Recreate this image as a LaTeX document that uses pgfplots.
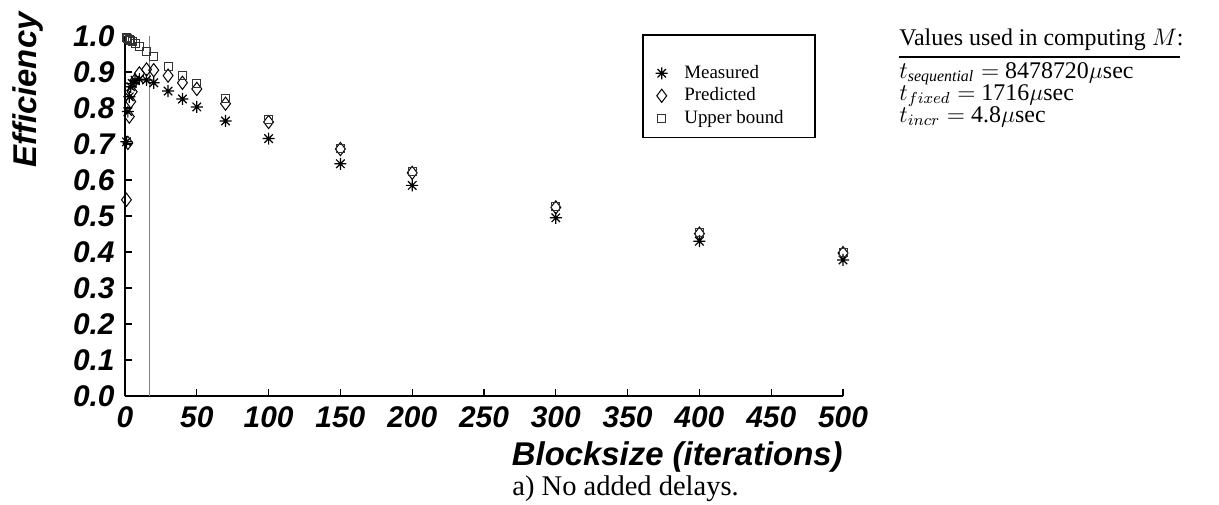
\documentclass[border=0pt]{standalone}
\usepackage{amsmath}
\usepackage{fontspec}
\setmainfont{Liberation Serif}
\setsansfont{Liberation Sans}
\usepackage{pgfplots}
\pgfplotsset{compat=1.18}

% eight-spoke asterisk for the measured points
\pgfdeclareplotmark{star8}{%
  \pgfpathmoveto{\pgfqpoint{0pt}{\pgfplotmarksize}}%
  \pgfpathlineto{\pgfqpoint{0pt}{-\pgfplotmarksize}}%
  \pgfpathmoveto{\pgfqpoint{\pgfplotmarksize}{0pt}}%
  \pgfpathlineto{\pgfqpoint{-\pgfplotmarksize}{0pt}}%
  \pgfpathmoveto{\pgfqpoint{.707\pgfplotmarksize}{.707\pgfplotmarksize}}%
  \pgfpathlineto{\pgfqpoint{-.707\pgfplotmarksize}{-.707\pgfplotmarksize}}%
  \pgfpathmoveto{\pgfqpoint{-.707\pgfplotmarksize}{.707\pgfplotmarksize}}%
  \pgfpathlineto{\pgfqpoint{.707\pgfplotmarksize}{-.707\pgfplotmarksize}}%
  \pgfusepathqstroke}

\pgfplotstableread{
b    meas   pred   upper
1    0.706  0.545  0.997
2    0.790  0.703  0.994
3    0.831  0.776  0.991
4    0.859  0.818  0.988
5    0.868  0.845  0.985
7    0.877  0.877  0.979
10   0.880  0.896  0.971
15   0.878  0.907  0.957
20   0.870  0.905  0.943
30   0.847  0.890  0.915
40   0.825  0.870  0.891
50   0.803  0.853  0.869
70   0.764  0.812  0.826
100  0.715  0.761  0.767
150  0.645  0.686  0.688
200  0.585  0.620  0.623
300  0.495  0.524  0.525
400  0.430  0.451  0.453
500  0.378  0.397  0.398
}\efficiency

\begin{document}
\begin{tikzpicture}[x=1bp,y=1bp]
\useasboundingbox (0,0) rectangle (609.5,252);
\begin{axis}[
  at={(62.5bp,54bp)}, anchor=south west,
  scale only axis, width=359bp, height=180bp,
  xmin=0, xmax=500, ymin=0, ymax=1,
  axis lines=left, axis line style={-, line width=0.7bp},
  clip=false,
  xtick={0,50,100,150,200,250,300,350,400,450,500},
  ytick={0,0.1,0.2,0.3,0.4,0.5,0.6,0.7,0.8,0.9,1.0},
  tick align=inside, major tick length=3.3bp,
  tick style={line width=0.6bp, black},
  /pgf/number format/assume math mode=true,
  ticklabel style={font=\sffamily\bfseries\itshape\fontsize{15}{17}\selectfont},
  yticklabel={\pgfmathprintnumber[fixed,fixed zerofill,precision=1]{\tick}},
  yticklabel style={anchor=east, inner sep=0pt, xshift=-5bp},
  xticklabel style={anchor=north, inner sep=0pt, yshift=-5bp},
  legend cell align=left,
  legend image code/.code={%
    \path (-4bp,-3bp) (11bp,3bp);
    \draw[#1] plot coordinates {(0bp,0bp)};},
  legend style={draw=none, fill=none, inner sep=0pt, row sep=3.2bp,
    nodes={inner sep=0pt},
    font=\rmfamily\fontsize{9.5}{11}\selectfont,
    at={(axis cs:367.5,0.92)}, anchor=north west},
]
% marker for the chosen blocksize
\addplot[gray, line width=0.7bp, forget plot] coordinates {(17,0) (17,1)};

\addplot[only marks, mark=star8, mark size=3bp, line width=0.6bp, black]
  table[x=b, y=meas] {\efficiency};
\addlegendentry{Measured}
\addplot[only marks, mark=diamond, mark size=3.3bp, line width=0.5bp, black]
  table[x=b, y=pred] {\efficiency};
\addlegendentry{Predicted}
\addplot[only marks, mark=square, mark size=2bp, line width=0.5bp, black!80]
  table[x=b, y=upper] {\efficiency};
\addlegendentry{Upper bound}

\draw[line width=0.6bp] (axis cs:360.7,0.717) rectangle (axis cs:480.5,1.003);
\end{axis}

\node[rotate=90, anchor=east, inner sep=0pt,
  font=\sffamily\bfseries\itshape\fontsize{16.5}{18}\selectfont] at (14,246) {Efficiency};
\node[anchor=base east, inner sep=0pt,
  font=\sffamily\bfseries\itshape\fontsize{16.5}{18}\selectfont] at (421.5,19.5) {Blocksize (iterations)};
\node[anchor=base, inner sep=0pt, font=\rmfamily\fontsize{14.3}{16}\selectfont]
  at (312.8,4.5) {a) No added delays.};

\begin{scope}[every node/.style={anchor=base west, inner sep=0pt,
    font=\rmfamily\fontsize{12}{14}\selectfont}]
\node at (449.5,229.5) {Values used in computing $M$:};
\draw[line width=0.8bp] (449.5,223.5) -- (590,223.5);
\node at (449.5,213) {$t_{\text{\itshape sequential}} =$ 8478720$\mu$sec};
\node at (449.5,202) {$t_{fixed} =$ 1716$\mu$sec};
\node at (449.5,191) {$t_{incr} =$ 4.8$\mu$sec};
\end{scope}
\end{tikzpicture}
\end{document}
